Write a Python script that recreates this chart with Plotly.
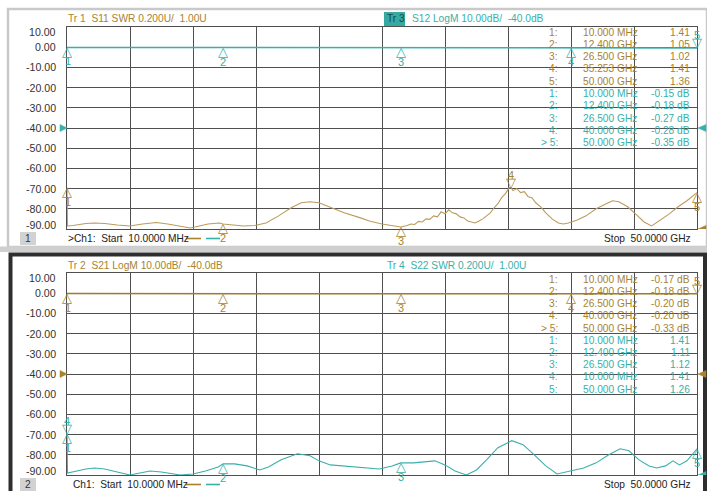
import plotly.graph_objects as go

W, H = 707, 491

# ---------------- data (frequency in GHz) ----------------
s11_freq = [0.01, 0.05, 0.5, 1.0, 1.5, 2.2, 3.0, 4.0, 5.0, 6.0, 7.1, 8.0, 9.0, 9.8, 10.5, 11.2,
            12.1, 12.4, 13.2, 14.0, 14.9, 15.8, 16.8, 17.8, 18.6, 19.3, 20.0, 21.0, 22.0, 23.3,
            24.0, 25.0, 25.8, 26.5, 27.0, 27.3, 27.6, 27.9, 28.2, 28.5, 28.8, 29.1, 29.4, 29.7,
            30.0, 30.3, 30.6, 30.9, 31.2, 31.5, 31.8, 32.1, 32.4, 32.7, 33.0, 33.3, 33.6, 33.9,
            34.2, 34.5, 34.8, 35.1, 35.25, 35.4, 35.7, 36.0, 36.3, 36.6, 36.9, 37.2, 37.6, 38.0,
            38.5, 39.0, 39.4, 39.8, 40.5, 41.2, 42.0, 42.8, 43.3, 43.8, 44.5, 45.2, 45.8, 46.4,
            47.0, 47.8, 48.5, 49.2, 50.0]
s11_swr = [1.41, 1.03, 1.035, 1.045, 1.055, 1.06, 1.055, 1.04, 1.03, 1.05, 1.065, 1.05, 1.025, 1.01, 1.03, 1.05,
           1.06, 1.05, 1.04, 1.03, 1.035, 1.06, 1.13, 1.21, 1.26, 1.27, 1.26, 1.21, 1.16, 1.11,
           1.08, 1.05, 1.03, 1.02, 1.035, 1.05, 1.045, 1.075, 1.07, 1.10, 1.095, 1.13, 1.12, 1.17,
           1.15, 1.19, 1.16, 1.15, 1.12, 1.11, 1.08, 1.07, 1.06, 1.08, 1.10, 1.13, 1.16, 1.21,
           1.25, 1.31, 1.35, 1.41, 1.41, 1.38, 1.40, 1.36, 1.37, 1.32, 1.31, 1.26, 1.22, 1.16,
           1.10, 1.06, 1.05, 1.06, 1.09, 1.13, 1.20, 1.25, 1.28, 1.27, 1.22, 1.14, 1.07, 1.03,
           1.08, 1.15, 1.22, 1.28, 1.36]

s12_freq = [0.01, 5.0, 10.0, 12.4, 15.0, 20.0, 26.5, 30.0, 35.0, 40.0, 45.0, 50.0]
s12_db = [-0.15, -0.16, -0.17, -0.18, -0.20, -0.22, -0.27, -0.27, -0.28, -0.28, -0.30, -0.35]

s21_freq = [0.01, 5.0, 10.0, 12.4, 15.0, 20.0, 26.5, 30.0, 35.0, 40.0, 45.0, 50.0]
s21_db = [-0.17, -0.17, -0.18, -0.18, -0.19, -0.19, -0.20, -0.20, -0.20, -0.20, -0.25, -0.33]

s22_freq = [0.01, 0.05, 0.8, 1.5, 2.2, 3.0, 4.0, 5.0, 5.8, 6.6, 7.5, 9.0, 10.0, 11.0, 12.0, 12.4,
            13.3, 14.3, 15.3, 16.0, 17.0, 18.3, 19.3, 20.0, 20.9, 22.0, 23.3, 24.8, 25.8, 26.5,
            27.5, 28.5, 29.2, 30.0, 30.8, 31.7, 32.5, 33.3, 34.2, 35.3, 36.2, 37.0, 38.0, 38.9,
            39.6, 41.0, 42.0, 43.0, 43.9, 44.6, 45.4, 46.2, 46.8, 47.5, 48.1, 48.6, 49.2, 50.0]
s22_swr = [1.41, 1.02, 1.04, 1.06, 1.07, 1.06, 1.03, 1.00, 1.02, 1.04, 1.03, 1.00, 1.01, 1.04, 1.08, 1.11,
           1.11, 1.09, 1.05, 1.08, 1.15, 1.21, 1.19, 1.14, 1.10, 1.09, 1.08, 1.06, 1.09, 1.12,
           1.12, 1.13, 1.14, 1.10, 1.04, 1.00, 1.05, 1.15, 1.27, 1.34, 1.30, 1.21, 1.09, 1.01,
           1.03, 1.07, 1.12, 1.20, 1.26, 1.24, 1.15, 1.09, 1.07, 1.09, 1.14, 1.10, 1.14, 1.26]

# marker readouts
m_s11_freq = [0.01, 12.4, 26.5, 35.253, 50.0]
m_s11_val = [1.41, 1.05, 1.02, 1.41, 1.36]
m_s12_freq = [0.01, 12.4, 26.5, 40.0, 50.0]
m_s12_val = [-0.15, -0.18, -0.27, -0.28, -0.35]
m_s21_freq = [0.01, 12.4, 26.5, 40.0, 50.0]
m_s21_val = [-0.17, -0.18, -0.20, -0.20, -0.33]
m_s22_freq = [0.01, 12.4, 26.5, 0.01, 50.0]
m_s22_val = [1.41, 1.11, 1.12, 1.41, 1.26]
marker_names = ["1", "2", "3", "4", "5"]

db_ticks = [10, 0, -10, -20, -30, -40, -50, -60, -70, -80, -90]
db_tick_labels = ["10.00", "0.00", "-10.00", "-20.00", "-30.00", "-40.00",
                  "-50.00", "-60.00", "-70.00", "-80.00", "-90.00"]

# ---------------- styles ----------------
BROWN = "#A8822F"
BROWN_TR = "#BC9B5C"
TEAL = "#38B0A9"
GRID = "#4f4f4f"
FONT = "Liberation Sans"
FS = 10.2

def X(px):
    return px / W

def Y(py):
    return 1 - py / H

fig = go.Figure()

# traces
fig.add_trace(go.Scatter(x=s12_freq, y=s12_db, xaxis="x", yaxis="y", mode="lines",
                         line=dict(color=TEAL, width=1.5), hoverinfo="skip"))
fig.add_trace(go.Scatter(x=s11_freq, y=s11_swr, xaxis="x", yaxis="y2", mode="lines",
                         line=dict(color=BROWN_TR, width=1.1), hoverinfo="skip"))
fig.add_trace(go.Scatter(x=s21_freq, y=s21_db, xaxis="x2", yaxis="y3", mode="lines",
                         line=dict(color="#9C7A2E", width=1.5), hoverinfo="skip"))
fig.add_trace(go.Scatter(x=s22_freq, y=s22_swr, xaxis="x2", yaxis="y4", mode="lines",
                         line=dict(color=TEAL, width=1.1), hoverinfo="skip"))

xdom = [X(67), X(697)]
common_x = dict(domain=xdom, range=[0.01, 50.0], tick0=0.01, dtick=4.999, showgrid=True,
                gridcolor=GRID, gridwidth=1, showticklabels=False, zeroline=False,
                showline=True, mirror=True, linecolor=GRID, linewidth=1, ticks="")
common_y = dict(range=[-90, 10], tick0=0, dtick=10, showgrid=True, gridcolor=GRID,
                gridwidth=1, showticklabels=False, zeroline=False, showline=True,
                mirror=True, linecolor=GRID, linewidth=1, ticks="")

annotations = []
shapes = []

# ---------- frames ----------
shapes.append(dict(type="rect", xref="paper", yref="paper", x0=X(8), x1=X(707), y0=Y(247), y1=Y(9),
                   line=dict(color="#c9c9c9", width=2.5), fillcolor="white", layer="below"))
shapes.append(dict(type="rect", xref="paper", yref="paper", x0=X(0), x1=X(707), y0=Y(252), y1=Y(246.5),
                   line=dict(width=0), fillcolor="#cfcfcf", layer="below"))
shapes.append(dict(type="rect", xref="paper", yref="paper", x0=X(10.5), x1=X(705), y0=Y(495), y1=Y(254.5),
                   line=dict(color="#2e2e2e", width=4), fillcolor="white", layer="below"))

def add_text(text, x, y, color, size=FS, xanchor="left", **kw):
    annotations.append(dict(text=text, x=X(x), y=Y(y), xref="paper", yref="paper",
                            xanchor=xanchor, yanchor="middle", showarrow=False,
                            font=dict(family=FONT, size=size, color=color), **kw))

# ---------- y tick labels ----------
for yref in ("y", "y3"):
    for v, t in zip(db_ticks, db_tick_labels):
        shift = -5 if v == 10 else (4 if v == -90 else 0)
        annotations.append(dict(text=t, x=X(58), xref="paper", y=v, yref=yref, xanchor="right",
                                yanchor="middle", yshift=shift, showarrow=False,
                                font=dict(family=FONT, size=10.6, color="#333333")))

# ---------- titles ----------
add_text("Tr 1  S11 SWR 0.200U/  1.00U", 66, 19, BROWN)
shapes.append(dict(type="rect", xref="paper", yref="paper", x0=X(384), x1=X(405), y0=Y(26), y1=Y(12),
                   fillcolor="#36A9A2", line=dict(width=0)))
add_text("Tr 3", 385, 19, "#174a47")
add_text("S12 LogM 10.00dB/  -40.0dB", 410, 19, TEAL)
add_text("Tr 2  S21 LogM 10.00dB/  -40.0dB", 66, 265.5, BROWN)
add_text("Tr 4  S22 SWR 0.200U/  1.00U", 385, 265.5, TEAL)

# ---------- footers ----------
for box_y0, box_y1, lbl, ch, chx, fy in ((232, 245, "1", ">Ch1:  Start  10.0000 MHz", 66, 238.5),
                                          (478, 491, "2", "Ch1:  Start  10.0000 MHz", 71, 484.5)):
    shapes.append(dict(type="rect", xref="paper", yref="paper", x0=X(20), x1=X(36), y0=Y(box_y1), y1=Y(box_y0),
                       fillcolor="#d2d2d2", line=dict(width=0)))
    add_text(lbl, 28, (box_y0 + box_y1) / 2, "#333333", xanchor="center")
    add_text(ch, chx, fy, "#222222")
    add_text("Stop  50.0000 GHz", 693, fy, "#222222", xanchor="right")
    shapes.append(dict(type="line", xref="paper", yref="paper", x0=X(186), x1=X(201), y0=Y(fy), y1=Y(fy),
                       line=dict(color=BROWN, width=1.6)))
    shapes.append(dict(type="line", xref="paper", yref="paper", x0=X(206), x1=X(220), y0=Y(fy), y1=Y(fy),
                       line=dict(color=TEAL, width=1.6)))

# ---------- markers on traces ----------
def add_markers(freqs, vals, xref, yref, color, down_idx):
    for i, (f, v) in enumerate(zip(freqs, vals)):
        down = (i in down_idx)
        tri = "\u25bd" if down else "\u25b3"
        annotations.append(dict(text=tri, x=f, y=v, xref=xref, yref=yref, showarrow=False,
                                xanchor="center", yanchor="middle", yshift=(5 if down else -4),
                                font=dict(family="DejaVu Sans", size=13, color=color)))
        annotations.append(dict(text=marker_names[i], x=f, y=v, xref=xref, yref=yref, showarrow=False,
                                xanchor="center", yanchor="middle", yshift=(13 if down else -14),
                                xshift=(1 if i == 0 else 0),
                                font=dict(family=FONT, size=11, color=color)))

add_markers(m_s12_freq, m_s12_val, "x", "y", TEAL, [4])
add_markers(m_s11_freq, m_s11_val, "x", "y2", BROWN, [3])
add_markers(m_s21_freq, m_s21_val, "x2", "y3", BROWN, [4])
add_markers(m_s22_freq, m_s22_val, "x2", "y4", TEAL, [3])

# ---------- reference position arrows ----------
def ref_arrow(xpaper, yref, yval, color, pointing_right):
    path = "M-7,3.5 L0,0 L-7,-3.5 Z" if pointing_right else "M8,3.5 L0,0 L8,-3.5 Z"
    shapes.append(dict(type="path", xref="paper", yref=yref, xsizemode="pixel", ysizemode="pixel",
                       xanchor=xpaper, yanchor=yval, path=path, fillcolor=color,
                       line=dict(color=color, width=0.5)))

ref_arrow(X(67), "y", -40, TEAL, True)
ref_arrow(X(698), "y", -40, TEAL, False)
ref_arrow(X(698), "y2", 1.0, BROWN, False)
ref_arrow(X(67), "y3", -40, BROWN, True)
ref_arrow(X(698), "y3", -40, BROWN, False)
ref_arrow(X(698), "y4", 1.0, TEAL, False)

# ---------- marker tables ----------
def fmt_freq(f):
    return f"{f * 1000:.3f} MHz" if f < 1 else f"{f:.3f} GHz"

def table(rows_y, blocks):
    r = 0
    for freqs, vals, color, unit, active in blocks:
        for i, (f, v) in enumerate(zip(freqs, vals)):
            y = rows_y[r]
            idx = ("> " if i == active else "") + marker_names[i] + ":"
            add_text(idx, 560, y, color, xanchor="right")
            add_text(fmt_freq(f), 581, y, color)
            val = f"{v:.2f} dB" if unit == "dB" else f"{v:.2f}"
            add_text(val, 692, y, color, xanchor="right")
            r += 1

rows1 = [32, 44.3, 56.6, 68.9, 81.2, 93.5, 105.8, 118.1, 130.4, 142.7]
rows2 = [279.5, 291.5, 303.5, 315.8, 328, 340.2, 352.4, 364.6, 376.8, 389]
table(rows1, [(m_s11_freq, m_s11_val, BROWN, "U", -1), (m_s12_freq, m_s12_val, TEAL, "dB", 4)])
table(rows2, [(m_s21_freq, m_s21_val, BROWN, "dB", 4), (m_s22_freq, m_s22_val, TEAL, "U", -1)])

fig.update_layout(
    width=W, height=H, margin=dict(l=0, r=0, t=0, b=0),
    paper_bgcolor="white", plot_bgcolor="rgba(0,0,0,0)", showlegend=False,
    xaxis=dict(common_x, anchor="y"),
    yaxis=dict(common_y, domain=[Y(229), Y(27)], anchor="x"),
    yaxis2=dict(range=[1.0, 3.0], overlaying="y", anchor="x", visible=False),
    xaxis2=dict(common_x, anchor="y3"),
    yaxis3=dict(common_y, domain=[Y(475), Y(273)], anchor="x2"),
    yaxis4=dict(range=[1.0, 3.0], overlaying="y3", anchor="x2", visible=False),
    annotations=annotations, shapes=shapes,
    font=dict(family=FONT),
)

fig.write_html("out.html", config={"displayModeBar": False},
               post_script="document.body.style.margin='0';document.body.style.overflow='hidden';")
